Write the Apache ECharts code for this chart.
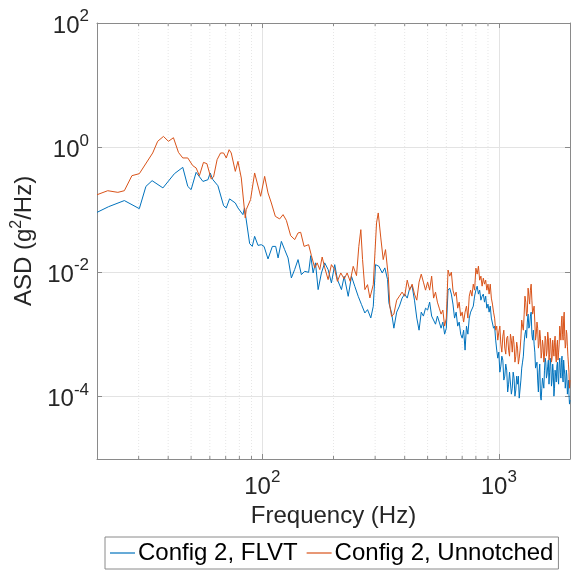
<!DOCTYPE html>
<html>
<head>
<meta charset="utf-8">
<script src="https://cdn.jsdelivr.net/npm/echarts@6/dist/echarts.min.js"></script>
<style>
  html, body { margin: 0; padding: 0; background: #ffffff; }
  #chart { width: 573px; height: 581px; }
</style>
</head>
<body>
<div id="chart"></div>
<script>
// Acceleration spectral density, two configurations.
// Low-frequency part: individually resolved points (Hz, g^2/Hz).
const flvtFreq = [20, 22.4, 26.1, 30.2, 32.2, 34.2, 38.0, 42.5, 46.1, 48.4, 50.0, 52.5, 56.1, 58.9, 60.2, 61.8, 64.9, 68.6, 70.4, 72.7, 76.9, 78.9, 82.8, 84.1, 88.4, 90.7, 92.8, 95.9, 99.0, 101.7, 105.7, 110.3, 113.9, 116.6, 120.4, 124.3, 128.5, 132.7, 137.0, 141.6, 146.3, 151.1, 157.0, 160.2, 164.0, 167.8, 172.2, 177.8, 183.6, 189.8, 196.0, 202.4, 207.8, 216.1, 221.9, 230.8, 238.3, 246.1, 254.4, 262.7, 271.4, 278.6, 287.6, 294.6, 301.1, 311.1, 321.5, 329.7, 338.6, 343.0, 352.1];
const flvtAsd = [0.0912, 0.1125, 0.141, 0.1045, 0.238, 0.294, 0.225, 0.381, 0.481, 0.238, 0.211, 0.400, 0.286, 0.305, 0.391, 0.305, 0.244, 0.1167, 0.1073, 0.150, 0.129, 0.1073, 0.0838, 0.1073, 0.0287, 0.0259, 0.0376, 0.0269, 0.0276, 0.0259, 0.0163, 0.0259, 0.0259, 0.0169, 0.0312, 0.0230, 0.0169, 0.00807, 0.0110, 0.0159, 0.00912, 0.0103, 0.00993, 0.0184, 0.00971, 0.0141, 0.00524, 0.00971, 0.0141, 0.0110, 0.00671, 0.0132, 0.00759, 0.00524, 0.00857, 0.00409, 0.00857, 0.00592, 0.00409, 0.00301, 0.00221, 0.00250, 0.00184, 0.00283, 0.0132, 0.0124, 0.00971, 0.0117, 0.00759, 0.00321, 0.00221];

const unnotchedFreq = [20, 22.2, 24.5, 26.1, 28.1, 30.2, 34.4, 36.1, 38.2, 40.1, 42.1, 44.2, 46.1, 48.4, 50.8, 52.5, 54.2, 56.4, 58.3, 60.8, 62.2, 64.4, 66.6, 68.6, 70.4, 72.4, 73.9, 76.9, 78.9, 81.5, 84.7, 85.5, 89.2, 92.8, 94.3, 98.4, 102.3, 105.7, 109.2, 111.0, 113.5, 118.4, 122.4, 126.4, 131.8, 137.1, 141.6, 145.3, 150.2, 157.0, 161.3, 166.6, 170.6, 175.0, 179.1, 183.7, 189.8, 196.0, 202.4, 207.8, 214.7, 221.9, 228.4, 235.3, 242.3, 250.2, 255.9, 261.0, 265.4, 271.5, 278.6, 285.0, 294.6, 304.1, 309.2, 317.0, 324.5, 331.9, 340.9, 346.2, 352.1];
const unnotchedAsd = [0.175, 0.203, 0.191, 0.203, 0.354, 0.381, 0.819, 1.26, 1.51, 1.26, 1.44, 0.837, 0.681, 0.681, 0.513, 0.471, 0.354, 0.578, 0.552, 0.313, 0.337, 0.640, 0.819, 0.819, 0.681, 0.925, 0.819, 0.415, 0.600, 0.325, 0.0741, 0.1007, 0.146, 0.391, 0.367, 0.165, 0.345, 0.187, 0.129, 0.137, 0.0787, 0.0715, 0.0838, 0.0678, 0.0385, 0.0333, 0.0426, 0.0436, 0.0259, 0.0276, 0.0184, 0.0117, 0.0141, 0.0110, 0.0175, 0.0117, 0.00759, 0.0132, 0.0110, 0.00712, 0.00971, 0.00778, 0.00971, 0.00712, 0.0124, 0.00879, 0.0259, 0.0481, 0.0159, 0.00524, 0.00630, 0.00385, 0.00630, 0.0617, 0.0892, 0.0354, 0.0159, 0.0230, 0.00857, 0.00283, 0.00195];

// Mid band, 10 Hz lines from 360 Hz to 1 kHz.
const midFreq = [360, 370, 380, 390, 400, 410, 420, 430, 440, 450, 460, 470, 480, 490, 500, 510, 520, 530, 540, 550, 560, 570, 580, 590, 600, 610, 620, 630, 640, 650, 660, 670, 680, 690, 700, 710, 720, 730, 740, 750, 760, 770, 780, 790, 800, 810, 820, 830, 840, 850, 860, 870, 880, 890, 900, 910, 920, 930, 940, 950, 960, 970, 980, 990, 1000];
const midFlvt = [1.26e-3, 2.28e-3, 2.85e-3, 3.83e-3, 4.44e-3, 3.83e-3, 5.54e-3, 5.96e-3, 3.55e-3, 1.83e-3, 1.17e-3, 2.28e-3, 1.97e-3, 2.64e-3, 2.46e-3, 3.30e-3, 1.97e-3, 2.12e-3, 1.46e-3, 1.97e-3, 1.58e-3, 1.26e-3, 1.58e-3, 1.01e-3, 1.26e-3, 5.14e-3, 5.54e-3, 4.44e-3, 3.07e-3, 1.83e-3, 2.28e-3, 1.36e-3, 1.58e-3, 1.01e-3, 8.72e-4, 1.17e-3, 5.60e-4, 1.36e-3, 1.01e-3, 1.83e-3, 2.28e-3, 2.12e-3, 2.85e-3, 4.12e-3, 5.14e-3, 5.96e-3, 4.44e-3, 5.14e-3, 3.55e-3, 4.12e-3, 4.44e-3, 3.30e-3, 4.12e-3, 2.64e-3, 3.07e-3, 2.28e-3, 2.85e-3, 1.83e-3, 1.97e-3, 1.26e-3, 1.36e-3, 8.10e-4, 5.60e-4, 4.16e-4, 5.20e-4];
const midUnnotched = [2.12e-3, 3.55e-3, 4.12e-3, 4.78e-3, 4.12e-3, 7.44e-3, 5.14e-3, 6.42e-3, 4.44e-3, 3.55e-3, 6.91e-3, 9.29e-3, 6.91e-3, 5.14e-3, 6.91e-3, 5.14e-3, 8.63e-3, 3.83e-3, 4.78e-3, 3.30e-3, 2.64e-3, 2.12e-3, 2.46e-3, 1.36e-3, 1.83e-3, 1.08e-2, 8.63e-3, 1.00e-2, 5.14e-3, 4.12e-3, 4.78e-3, 2.64e-3, 3.30e-3, 1.97e-3, 2.28e-3, 1.58e-3, 2.28e-3, 2.85e-3, 1.83e-3, 4.12e-3, 5.14e-3, 4.12e-3, 6.42e-3, 5.14e-3, 1.16e-2, 9.29e-3, 1.25e-2, 7.44e-3, 8.63e-3, 5.96e-3, 8.01e-3, 6.42e-3, 7.44e-3, 5.14e-3, 6.42e-3, 4.44e-3, 6.42e-3, 3.83e-3, 3.07e-3, 2.28e-3, 1.83e-3, 1.17e-3, 1.36e-3, 8.10e-4, 1.09e-3];

// High band, 10 Hz lines from 1010 Hz to 2 kHz.
const highFreq = [1010, 1020, 1030, 1040, 1050, 1060, 1070, 1080, 1090, 1100, 1110, 1120, 1130, 1140, 1150, 1160, 1170, 1180, 1190, 1200, 1210, 1220, 1230, 1240, 1250, 1260, 1270, 1280, 1290, 1300, 1310, 1320, 1330, 1340, 1350, 1360, 1370, 1380, 1390, 1400, 1410, 1420, 1430, 1440, 1450, 1460, 1470, 1480, 1490, 1500, 1510, 1520, 1530, 1540, 1550, 1560, 1570, 1580, 1590, 1600, 1610, 1620, 1630, 1640, 1650, 1660, 1670, 1680, 1690, 1700, 1710, 1720, 1730, 1740, 1750, 1760, 1770, 1780, 1790, 1800, 1810, 1820, 1830, 1840, 1850, 1860, 1870, 1880, 1890, 1900, 1910, 1920, 1930, 1940, 1950, 1960, 1970, 1980, 1990, 2000];
const highFlvt = [2.48e-4, 3.10e-4, 4.48e-4, 3.87e-4, 1.85e-4, 2.14e-4, 3.34e-4, 2.67e-4, 1.19e-4, 1.59e-4, 2.48e-4, 2.31e-4, 1.10e-4, 1.37e-4, 2.48e-4, 1.99e-4, 1.02e-4, 1.28e-4, 2.14e-4, 1.59e-4, 2.14e-4, 9.49e-5, 8.82e-5, 1.85e-4, 2.88e-4, 3.59e-4, 4.48e-4, 7.52e-4, 1.01e-3, 1.17e-3, 8.72e-4, 1.58e-3, 2.12e-3, 1.26e-3, 1.36e-3, 1.97e-3, 2.28e-3, 1.01e-3, 8.10e-4, 1.17e-3, 6.99e-4, 5.20e-4, 2.88e-4, 3.10e-4, 3.59e-4, 1.85e-4, 1.19e-4, 2.48e-4, 3.34e-4, 1.02e-4, 8.82e-5, 1.37e-4, 1.99e-4, 2.14e-4, 1.37e-4, 2.67e-4, 4.16e-4, 3.59e-4, 1.99e-4, 2.31e-4, 3.10e-4, 3.87e-4, 1.59e-4, 2.48e-4, 4.16e-4, 3.10e-4, 1.48e-4, 1.85e-4, 3.34e-4, 2.48e-4, 1.02e-4, 1.37e-4, 2.67e-4, 2.14e-4, 1.72e-4, 3.10e-4, 3.59e-4, 1.99e-4, 1.59e-4, 3.34e-4, 4.16e-4, 2.48e-4, 1.99e-4, 3.59e-4, 4.48e-4, 2.14e-4, 1.72e-4, 3.87e-4, 2.88e-4, 2.31e-4, 1.37e-4, 1.72e-4, 2.67e-4, 2.14e-4, 1.10e-4, 1.48e-4, 1.85e-4, 1.10e-4, 7.61e-5, 8.82e-5];
const highUnnotched = [1.36e-3, 6.99e-4, 5.20e-4, 9.39e-4, 1.17e-3, 6.03e-4, 4.83e-4, 8.72e-4, 9.39e-4, 5.60e-4, 4.48e-4, 1.01e-3, 8.10e-4, 5.20e-4, 9.39e-4, 6.99e-4, 3.59e-4, 4.48e-4, 7.52e-4, 6.03e-4, 3.34e-4, 4.16e-4, 5.60e-4, 8.72e-4, 1.70e-3, 1.36e-3, 1.17e-3, 2.12e-3, 4.12e-3, 3.30e-3, 1.97e-3, 2.28e-3, 5.54e-3, 4.12e-3, 3.07e-3, 5.14e-3, 6.42e-3, 3.55e-3, 2.12e-3, 2.28e-3, 2.85e-3, 1.58e-3, 8.10e-4, 1.01e-3, 1.58e-3, 1.26e-3, 6.03e-4, 6.99e-4, 1.17e-3, 8.72e-4, 4.16e-4, 5.20e-4, 8.10e-4, 6.49e-4, 3.59e-4, 4.48e-4, 9.39e-4, 8.10e-4, 4.48e-4, 5.60e-4, 1.09e-3, 8.72e-4, 3.87e-4, 4.83e-4, 8.72e-4, 6.99e-4, 3.59e-4, 4.16e-4, 8.10e-4, 6.03e-4, 4.48e-4, 7.52e-4, 9.39e-4, 4.48e-4, 3.59e-4, 6.49e-4, 8.10e-4, 3.87e-4, 5.20e-4, 6.99e-4, 1.36e-3, 1.09e-3, 8.10e-4, 1.58e-3, 1.97e-3, 1.01e-3, 8.10e-4, 1.83e-3, 2.28e-3, 9.39e-4, 6.03e-4, 6.99e-4, 1.17e-3, 1.01e-3, 6.49e-4, 4.48e-4, 3.34e-4, 2.48e-4, 1.37e-4, 1.85e-4];

// Minor frequency gridlines between the decades.
const minorFreq = [30, 40, 50, 60, 70, 80, 90, 200, 300, 400, 500, 600, 700, 800, 900];

const seriesNames = ['Config 2, FLVT', 'Config 2, Unnotched'];
const seriesColors = ['#0072BD', '#D95319'];

const FONT = "'Liberation Sans', Arial, Helvetica, sans-serif";
const TEXT = '#262626';
const AXIS = '#8a8a8a';

// Join band arrays into [frequency, value] pairs.
function pairs(bands) {
  const out = [];
  bands.forEach(([freqs, vals]) => freqs.forEach((f, i) => out.push([f, vals[i]])));
  return out;
}

function powerLabel(onlyEven) {
  return function (v) {
    const e = Math.log10(v);
    const r = Math.round(e);
    if (Math.abs(e - r) > 1e-6) return '';
    if (onlyEven && r % 2 !== 0) return '';
    return '{b|10}{e|' + r + '}';
  };
}

const powRich = {
  b: { fontSize: 24, lineHeight: 30, verticalAlign: 'bottom', fontFamily: FONT, color: TEXT },
  e: { fontSize: 17, lineHeight: 17, verticalAlign: 'top', fontFamily: FONT, color: TEXT }
};

const xBase = {
  type: 'log', logBase: 10, min: 20, max: 2000,
  axisLine: { show: true, lineStyle: { color: AXIS, width: 1 } },
  axisTick: { show: true, inside: true, length: 5, lineStyle: { color: AXIS } },
  splitLine: { show: false }
};
const yBase = {
  type: 'log', logBase: 100, min: 1e-5, max: 1e2,
  axisLine: { show: true, lineStyle: { color: AXIS, width: 1 } },
  axisTick: { show: true, inside: true, length: 5, lineStyle: { color: AXIS } },
  splitLine: { show: false }
};

const chart = echarts.init(document.getElementById('chart'), null, { renderer: 'canvas' });

chart.setOption({
  animation: false,
  backgroundColor: '#ffffff',
  grid: { left: 97, right: 3, top: 23, bottom: 122, containLabel: false },
  xAxis: [
    Object.assign({}, xBase, {
      position: 'bottom',
      name: 'Frequency (Hz)', nameLocation: 'middle', nameGap: 41,
      nameTextStyle: { fontSize: 24, fontFamily: FONT, color: TEXT },
      axisLabel: { margin: 10, formatter: powerLabel(false), rich: powRich },
      splitLine: { show: true, lineStyle: { color: '#e3e3e3', width: 1 } }
    }),
    Object.assign({}, xBase, { position: 'top', axisLabel: { show: false } })
  ],
  yAxis: [
    Object.assign({}, yBase, {
      position: 'left',
      name: '{a|ASD (g}{s|2}{a|/Hz)}', nameLocation: 'middle', nameGap: 58,
      nameTextStyle: {
        fontFamily: FONT, color: TEXT,
        rich: {
          a: { fontSize: 24, lineHeight: 28, verticalAlign: 'bottom', fontFamily: FONT, color: TEXT },
          s: { fontSize: 16, lineHeight: 16, verticalAlign: 'top', fontFamily: FONT, color: TEXT }
        }
      },
      axisLabel: { margin: 8, formatter: powerLabel(true), rich: powRich },
      splitLine: { show: true, lineStyle: { color: '#e3e3e3', width: 1 } }
    }),
    Object.assign({}, yBase, { position: 'right', axisLabel: { show: false } })
  ],
  legend: {
    data: seriesNames,
    left: 105, top: 537,
    orient: 'horizontal',
    padding: [4, 5, 4, 5],
    itemGap: 9, itemWidth: 25, itemHeight: 1.2,
    icon: 'rect',
    borderColor: AXIS, borderWidth: 1, backgroundColor: '#ffffff',
    textStyle: { fontSize: 24, fontFamily: FONT, color: '#000000', padding: [0, 0, 0, -2] }
  },
  series: [
    {
      type: 'custom', name: 'minor-grid', silent: true, z: 1,
      xAxisIndex: 0, yAxisIndex: 0,
      data: minorFreq.map(f => [f, 1]),
      encode: { x: 0, y: 1 },
      renderItem: function (params, api) {
        const cs = params.coordSys;
        const x = api.coord([api.value(0), 1])[0];
        const top = cs.y, bottom = cs.y + cs.height;
        return {
          type: 'group',
          children: [
            { type: 'line', shape: { x1: x, y1: top, x2: x, y2: bottom }, style: { stroke: '#e6e6e6', lineWidth: 1, lineDash: [1, 2] } },
            { type: 'line', shape: { x1: x, y1: bottom, x2: x, y2: bottom - 3 }, style: { stroke: AXIS, lineWidth: 1 } },
            { type: 'line', shape: { x1: x, y1: top, x2: x, y2: top + 3 }, style: { stroke: AXIS, lineWidth: 1 } }
          ]
        };
      }
    },
    {
      type: 'line', name: seriesNames[0], z: 3,
      xAxisIndex: 0, yAxisIndex: 0,
      showSymbol: false, symbol: 'none',
      color: seriesColors[0],
      lineStyle: { color: seriesColors[0], width: 1 },
      data: pairs([[flvtFreq, flvtAsd], [midFreq, midFlvt], [highFreq, highFlvt]])
    },
    {
      type: 'line', name: seriesNames[1], z: 4,
      xAxisIndex: 0, yAxisIndex: 0,
      showSymbol: false, symbol: 'none',
      color: seriesColors[1],
      lineStyle: { color: seriesColors[1], width: 1 },
      data: pairs([[unnotchedFreq, unnotchedAsd], [midFreq, midUnnotched], [highFreq, highUnnotched]])
    }
  ]
});
</script>
</body>
</html>
